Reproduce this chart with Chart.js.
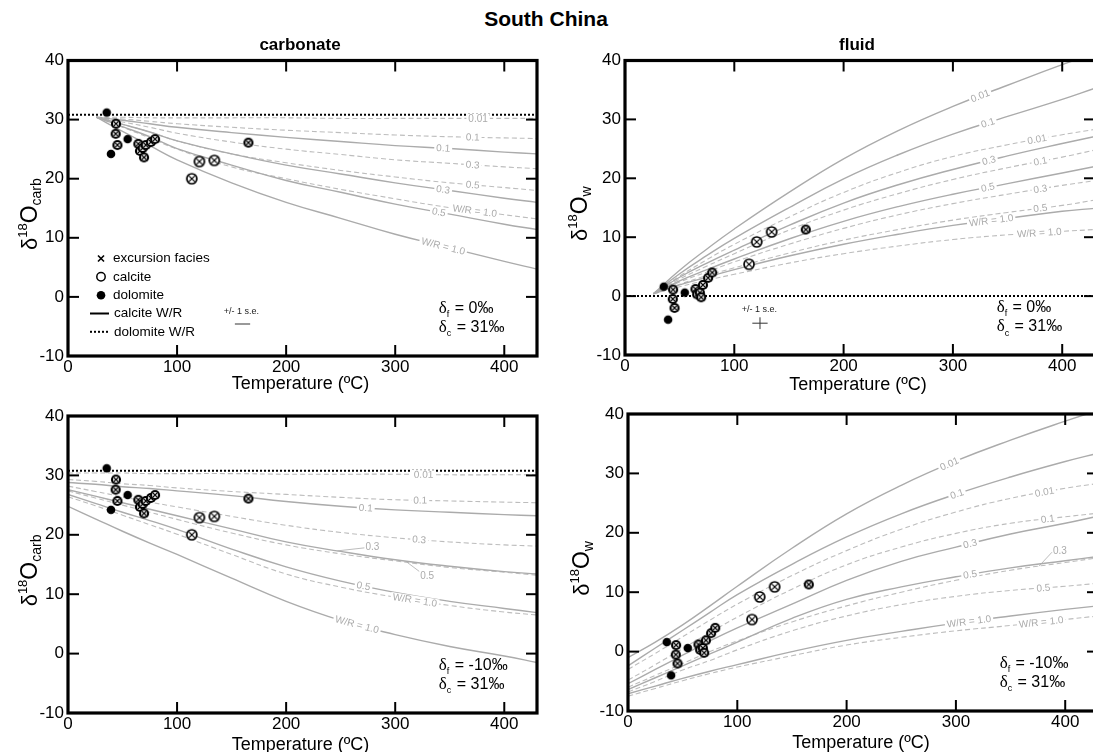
<!DOCTYPE html>
<html>
<head>
<meta charset="utf-8">
<title>South China</title>
<script src="https://cdn.jsdelivr.net/npm/chart.js@4.4.1/dist/chart.umd.min.js"></script>
<style>
  html, body { margin: 0; padding: 0; background: #fff; overflow: hidden; }
  body { position: relative; width: 1093px; height: 752px; }
  canvas { position: absolute; }
  .ttl { position: absolute; font-family: "Liberation Sans", Arial, sans-serif; font-weight: bold;
         white-space: nowrap; transform: translateX(-50%); line-height: 1; color: #000; }
</style>
</head>
<body>
<canvas id="tl" width="548" height="352" style="left:0;top:48px"></canvas>
<canvas id="tr" width="560" height="352" style="left:548px;top:48px"></canvas>
<canvas id="bl" width="548" height="352" style="left:0;top:400px"></canvas>
<canvas id="br" width="560" height="352" style="left:548px;top:400px"></canvas>
<div class="ttl" style="left:546px;top:8px;font-size:21px">South China</div>
<div class="ttl" style="left:300px;top:36px;font-size:17px">carbonate</div>
<div class="ttl" style="left:857px;top:36px;font-size:17px">fluid</div>
<script>
const FONT = '"Liberation Sans", Arial, Helvetica, sans-serif';
const SOLID_GRAY = '#ababab';
const DASH_GRAY = '#bdbdbd';
const LABEL_GRAY = '#ababab';

// axes
const xTicks = [0, 100, 200, 300, 400];
const yTicks = [-10, 0, 10, 20, 30, 40];

// measured samples, same rocks in every panel
const sampleT     = [35.5, 39.4, 54.7, 44.0, 43.7, 45.3, 64.5, 66.0, 68.5, 69.7, 71.3, 76.0, 79.8, 165.4, 113.5, 120.5, 134.2];
const sampleCarb  = [31.2, 24.2, 26.7, 29.3, 27.6, 25.7, 25.9, 24.7, 25.2, 23.6, 25.7, 26.2, 26.7, 26.1, 20.0, 22.9, 23.1];
const sampleFluid = [1.6, -4.0, 0.6, 1.1, -0.5, -2.0, 1.2, 0.3, 0.6, -0.2, 1.9, 3.1, 4.0, 11.3, 5.4, 9.2, 10.9];
const sampleKind  = ['dol', 'dol', 'dol', 'dolX', 'dolX', 'dolX', 'dolX', 'dolX', 'dolX', 'dolX', 'dolX', 'dolX', 'dolX', 'dolX', 'calX', 'calX', 'calX'];

// W/R model curves
const wrNames = ['0.01', '0.1', '0.3', '0.5', 'W/R = 1.0'];
const wrNamesNo001 = ['0.1', '0.3', '0.5', 'W/R = 1.0'];
const tGridF0 = [26, 50, 75, 100, 150, 200, 250, 300, 350, 400, 430];
const tGridF10 = [0, 25, 50, 75, 100, 150, 200, 250, 300, 350, 400, 430];

// carbonate, δf = 0
const carbF0Calcite = [
  [30.4, 29.9, 29.3, 28.7, 27.8, 27.0, 26.3, 25.6, 25.1, 24.5, 24.2],
  [30.4, 29.2, 27.9, 26.4, 24.2, 22.3, 20.8, 19.3, 18.0, 16.7, 16.0],
  [30.4, 28.8, 27.1, 25.1, 22.3, 19.7, 17.7, 15.7, 14.0, 12.3, 11.4],
  [30.4, 28.0, 25.6, 23.2, 19.3, 16.0, 13.3, 10.6, 8.3, 6.0, 4.7]
];
const carbF0Dolomite = [
  [30.4, 30.4, 30.3, 30.3, 30.3, 30.3, 30.2, 30.2, 30.2, 30.2, 30.2],
  [30.4, 30.1, 29.7, 29.3, 28.7, 28.2, 27.8, 27.4, 27.1, 26.9, 26.8],
  [30.4, 29.6, 28.7, 27.7, 26.2, 25.0, 24.1, 23.2, 22.6, 22.0, 21.7],
  [30.4, 29.2, 27.9, 26.4, 24.2, 22.7, 21.4, 20.3, 19.3, 18.5, 18.0],
  [30.4, 28.7, 26.9, 25.0, 22.0, 20.0, 18.2, 16.6, 15.1, 13.9, 13.2]
];
// fluid, δf = 0
const fluidF0Calcite = [
  [0.4, 4.4, 8.0, 11.4, 17.6, 23.3, 28.1, 32.2, 35.8, 39.3, 41.2],
  [0.4, 3.8, 6.9, 9.8, 15.0, 19.9, 24.0, 27.5, 30.5, 33.4, 35.3],
  [0.4, 3.2, 5.6, 7.8, 12.0, 15.8, 18.9, 21.5, 23.8, 25.9, 27.1],
  [0.4, 2.6, 4.5, 6.3, 9.7, 12.7, 15.2, 17.3, 19.1, 20.9, 22.0],
  [0.4, 1.9, 3.2, 4.5, 6.8, 8.8, 10.5, 12.0, 13.2, 14.4, 14.9]
];
const fluidF0Dolomite = [
  [0.4, 3.4, 6.2, 8.8, 13.4, 17.6, 21.0, 23.7, 25.7, 27.4, 28.3],
  [0.4, 2.9, 5.1, 7.2, 11.2, 14.6, 17.4, 19.8, 21.8, 23.6, 24.8],
  [0.4, 2.4, 4.1, 5.8, 8.8, 11.5, 13.8, 15.7, 17.3, 18.8, 19.6],
  [0.4, 2.0, 3.5, 4.8, 7.3, 9.5, 11.3, 12.9, 14.2, 15.4, 16.3],
  [0.4, 1.6, 2.7, 3.7, 5.6, 7.2, 8.5, 9.6, 10.4, 11.0, 11.3]
];
// carbonate, δf = -10
const carbF10Calcite = [
  [28.8, 28.5, 28.1, 27.8, 27.4, 26.6, 25.6, 24.8, 24.2, 23.8, 23.4, 23.2],
  [27.6, 26.5, 25.4, 24.3, 23.2, 21.0, 18.8, 17.2, 15.8, 14.7, 13.8, 13.4],
  [26.8, 25.3, 23.8, 22.4, 20.9, 17.6, 14.6, 12.2, 10.3, 8.8, 7.6, 6.9],
  [24.8, 22.7, 20.6, 18.6, 16.7, 12.7, 8.8, 5.6, 3.2, 1.2, -0.4, -1.5]
];
const carbF10Dolomite = [
  [30.4, 30.4, 30.4, 30.3, 30.3, 30.3, 30.2, 30.2, 30.2, 30.1, 30.1, 30.1],
  [29.3, 29.0, 28.6, 28.3, 27.9, 27.3, 26.8, 26.3, 25.9, 25.7, 25.5, 25.4],
  [28.2, 27.3, 26.4, 25.5, 24.7, 23.1, 21.6, 20.4, 19.5, 18.8, 18.3, 18.1],
  [27.4, 26.2, 25.0, 23.8, 22.6, 20.3, 18.3, 16.8, 15.6, 14.5, 13.7, 13.2],
  [26.4, 24.9, 23.3, 21.7, 20.1, 16.7, 13.4, 11.2, 9.5, 8.1, 7.0, 6.5]
];
// fluid, δf = -10
const fluidF10Calcite = [
  [-1.0, 1.6, 4.5, 7.7, 11.0, 17.4, 23.2, 28.0, 32.1, 35.6, 38.8, 40.6],
  [-2.4, 0.6, 3.6, 6.6, 9.6, 14.7, 19.3, 23.2, 26.5, 29.4, 32.0, 33.4],
  [-5.4, -3.0, -0.6, 1.8, 4.0, 8.0, 12.0, 15.2, 17.6, 19.8, 21.6, 22.8],
  [-6.4, -4.4, -2.4, -0.4, 1.6, 5.6, 8.8, 10.9, 12.6, 14.1, 15.3, 16.0],
  [-7.1, -5.8, -4.5, -3.3, -2.2, 0.0, 1.9, 3.4, 4.8, 6.0, 7.1, 7.7]
];
const fluidF10Dolomite = [
  [-3.0, -0.3, 2.5, 5.3, 8.0, 12.8, 17.0, 20.6, 23.5, 25.8, 27.5, 28.3],
  [-4.8, -2.2, 0.5, 3.2, 5.8, 10.5, 14.6, 17.6, 19.9, 21.6, 22.7, 23.3],
  [-6.0, -4.0, -2.0, 0.0, 1.8, 5.0, 7.7, 10.0, 12.0, 13.7, 15.0, 15.8],
  [-6.8, -5.0, -3.1, -1.5, 0.3, 3.5, 6.0, 7.9, 9.3, 10.3, 11.0, 11.5],
  [-7.5, -6.2, -4.9, -3.7, -2.6, -0.7, 1.1, 2.4, 3.5, 4.4, 5.4, 6.0]
];

// starting compositions (dotted lines)
const refT = [0, 430];
const refCarb = [30.8, 30.8];
const refFluidF0 = [0, 0];

// +/- 1 s.e.
const seCarbT = [153, 167];
const seCarbY = [-4.6, -4.6];
const seFluidT = [116.5, 130.5];
const seFluidY = [-5.6, -3.6];
const seFluidMid = [123.5, -4.6];

// marker images
function markerImage(kind) {
  const c = document.createElement('canvas');
  c.width = 16; c.height = 16;
  const g = c.getContext('2d');
  const m = 8;
  if (kind === 'dol') {
    g.beginPath(); g.arc(m, m, 4.3, 0, Math.PI * 2); g.fillStyle = '#000'; g.fill();
    return c;
  }
  if (kind === 'dolX') {
    g.beginPath(); g.arc(m, m, 5.1, 0, Math.PI * 2); g.fillStyle = '#000'; g.fill();
    g.beginPath(); g.arc(m, m, 2.9, 0, Math.PI * 2); g.fillStyle = '#fff'; g.fill();
    g.strokeStyle = '#000'; g.lineWidth = 1.1;
    g.beginPath();
    g.moveTo(m - 2, m - 2); g.lineTo(m + 2, m + 2);
    g.moveTo(m + 2, m - 2); g.lineTo(m - 2, m + 2);
    g.stroke();
    return c;
  }
  g.beginPath(); g.arc(m, m, 5.0, 0, Math.PI * 2);
  g.fillStyle = '#fff'; g.fill();
  g.lineWidth = 1.7; g.strokeStyle = '#000'; g.stroke();
  g.lineWidth = 1.2;
  g.beginPath();
  g.moveTo(m - 2.7, m - 2.7); g.lineTo(m + 2.7, m + 2.7);
  g.moveTo(m + 2.7, m - 2.7); g.lineTo(m - 2.7, m + 2.7);
  g.stroke();
  return c;
}
const markers = { dol: markerImage('dol'), dolX: markerImage('dolX'), calX: markerImage('calX') };

function interp(xs, ys, t) {
  for (let i = 0; i < xs.length - 1; i++) {
    if (t >= xs[i] && t <= xs[i + 1]) {
      const f = (t - xs[i]) / (xs[i + 1] - xs[i]);
      return ys[i] + f * (ys[i + 1] - ys[i]);
    }
  }
  return ys[ys.length - 1];
}

function line(ctx, x1, y1, x2, y2) {
  ctx.beginPath(); ctx.moveTo(x1, y1); ctx.lineTo(x2, y2); ctx.stroke();
}

function drawCurveLabel(ctx, sx, sy, xs, ys, text, place) {
  const px = sx.getPixelForValue(place.t);
  const py = sy.getPixelForValue(interp(xs, ys, place.t));
  ctx.save();
  ctx.font = '10px ' + FONT;
  const w = ctx.measureText(text).width;
  if (place.dy) {
    const lx = px + place.dx, ly = py + place.dy;
    ctx.strokeStyle = LABEL_GRAY; ctx.lineWidth = 0.8;
    line(ctx, px, py, lx, ly);
    ctx.fillStyle = LABEL_GRAY; ctx.textAlign = 'left'; ctx.textBaseline = 'middle';
    ctx.fillText(text, lx + 1, ly + (place.dy > 0 ? 5 : -1));
  } else {
    const a = sx.getPixelForValue(place.t - 6), b = sx.getPixelForValue(place.t + 6);
    const ya = sy.getPixelForValue(interp(xs, ys, place.t - 6));
    const yb = sy.getPixelForValue(interp(xs, ys, place.t + 6));
    ctx.translate(px, py);
    ctx.rotate(Math.atan2(yb - ya, b - a));
    ctx.fillStyle = '#fff';
    ctx.fillRect(-w / 2 - 2, -4.5, w + 4, 9);
    ctx.fillStyle = LABEL_GRAY; ctx.textAlign = 'center'; ctx.textBaseline = 'middle';
    ctx.fillText(text, 0, 0.5);
  }
  ctx.restore();
}

function drawYTitle(ctx, cx, cy, sub) {
  const parts = [
    { t: 'δ', f: '22px ' + FONT, dy: 0 },
    { t: '18', f: '13px ' + FONT, dy: -8 },
    { t: 'O', f: '23px ' + FONT, dy: 0 },
    { t: sub, f: '14px ' + FONT, dy: 6 }
  ];
  ctx.save();
  ctx.translate(cx, cy); ctx.rotate(-Math.PI / 2);
  let w = 0;
  parts.forEach(p => { ctx.font = p.f; p.w = ctx.measureText(p.t).width; w += p.w; });
  let x = -w / 2;
  ctx.textBaseline = 'middle'; ctx.fillStyle = '#000'; ctx.textAlign = 'left';
  parts.forEach(p => { ctx.font = p.f; ctx.fillText(p.t, x, p.dy); x += p.w; });
  ctx.restore();
}

function drawDelta(ctx, x, y, sub, rest) {
  ctx.save();
  ctx.fillStyle = '#000'; ctx.textBaseline = 'middle'; ctx.textAlign = 'left';
  ctx.font = '17px "Liberation Serif", serif';
  ctx.fillText('δ', x, y);
  let cx = x + ctx.measureText('δ').width;
  ctx.font = '9px ' + FONT;
  ctx.fillText(sub, cx, y + 6);
  cx += ctx.measureText(sub).width + 1;
  ctx.font = '16px ' + FONT;
  ctx.fillText(rest, cx, y);
  ctx.restore();
}

function drawLegend(ctx, a) {
  const sx = a.left + 33, tx = a.left + 45;
  const rows = [198, 216.3, 234.7, 253, 271.3].map(v => a.top + v);
  ctx.save();
  ctx.strokeStyle = '#000'; ctx.fillStyle = '#000';
  ctx.lineWidth = 1.6;
  line(ctx, sx - 3, rows[0] - 3, sx + 3, rows[0] + 3);
  line(ctx, sx + 3, rows[0] - 3, sx - 3, rows[0] + 3);
  ctx.lineWidth = 1.5;
  ctx.beginPath(); ctx.arc(sx, rows[1], 4.2, 0, Math.PI * 2); ctx.stroke();
  ctx.beginPath(); ctx.arc(sx, rows[2], 4.3, 0, Math.PI * 2); ctx.fill();
  ctx.lineWidth = 2;
  line(ctx, a.left + 22, rows[3], a.left + 41, rows[3]);
  ctx.setLineDash([2, 2]);
  line(ctx, a.left + 22, rows[4], a.left + 41, rows[4]);
  ctx.setLineDash([]);
  ctx.font = '13.5px ' + FONT; ctx.textBaseline = 'middle'; ctx.textAlign = 'left';
  ['excursion facies', 'calcite', 'dolomite', 'calcite W/R', 'dolomite W/R'].forEach((s, i) => {
    ctx.fillText(s, i > 2 ? tx + 1 : tx, rows[i]);
  });
  ctx.restore();
}

function decoPlugin(p) {
  return {
    id: 'deco' + p.id,
    afterDatasetsDraw(chart) {
      const ctx = chart.ctx, a = chart.chartArea;
      const sx = chart.scales.x, sy = chart.scales.y;
      // curve labels
      p.families.forEach(fam => {
        fam.values.forEach((vals, i) => {
          drawCurveLabel(ctx, sx, sy, fam.temps, vals, fam.names[i], fam.places[i]);
        });
      });
      ctx.save();
      // frame and inward ticks
      ctx.strokeStyle = '#000';
      ctx.lineWidth = 3.2;
      ctx.strokeRect(a.left, a.top, a.right - a.left, a.bottom - a.top);
      ctx.lineWidth = 2;
      xTicks.forEach(v => {
        if (v <= sx.min || v >= sx.max) return;
        const px = sx.getPixelForValue(v);
        line(ctx, px, a.top, px, a.top + 11);
        line(ctx, px, a.bottom, px, a.bottom - 11);
      });
      yTicks.forEach(v => {
        if (v <= sy.min || v >= sy.max) return;
        const py = sy.getPixelForValue(v);
        line(ctx, a.left, py, a.left + 11, py);
        line(ctx, a.right, py, a.right - 11, py);
      });
      ctx.restore();
      // axis titles
      ctx.save();
      ctx.fillStyle = '#000'; ctx.font = '18px ' + FONT;
      ctx.textAlign = 'center'; ctx.textBaseline = 'middle';
      ctx.fillText('Temperature (ºC)', (a.left + a.right) / 2 - 2, a.bottom + p.xTitleDy);
      ctx.restore();
      drawYTitle(ctx, a.left + p.yTitleDx, sy.getPixelForValue(14), p.yTitleSub);
      // δf / δc
      const ax = sx.getPixelForValue(340);
      drawDelta(ctx, ax, sy.getPixelForValue(-2.0), 'f', ' = ' + p.fluidText);
      drawDelta(ctx, ax, sy.getPixelForValue(-5.25), 'c', ' = 31‰');
      // +/- 1 s.e.
      if (p.seText) {
        ctx.save();
        ctx.font = '9px ' + FONT; ctx.fillStyle = '#222';
        ctx.textAlign = 'center'; ctx.textBaseline = 'middle';
        ctx.fillText('+/- 1 s.e.', sx.getPixelForValue(p.seText[0]), sy.getPixelForValue(p.seText[1]));
        ctx.restore();
      }
      if (p.legend) drawLegend(ctx, a);
    }
  };
}

function lineSet(xs, ys, style) {
  return Object.assign({
    data: xs.map((t, i) => ({ x: t, y: ys[i] })),
    showLine: true, pointRadius: 0, pointHoverRadius: 0, fill: false, order: 5,
    borderWidth: 1.3, borderColor: SOLID_GRAY, tension: 0
  }, style);
}

function buildPanel(p) {
  const datasets = [];
  datasets.push({
    data: sampleT.map((t, i) => ({ x: t, y: p.sampleY[i] })),
    pointStyle: sampleKind.map(k => markers[k]),
    pointRadius: 6, pointHoverRadius: 6, showLine: false, order: 0
  });
  p.families.forEach(fam => {
    fam.values.forEach(vals => {
      datasets.push(lineSet(fam.temps, vals, fam.dashed
        ? { borderColor: DASH_GRAY, borderWidth: 1.1, borderDash: [5, 3], tension: 0.45 }
        : { borderColor: SOLID_GRAY, borderWidth: 1.4, tension: 0.45 }));
    });
  });
  if (p.ref) {
    datasets.push(lineSet(refT, p.ref, { borderColor: '#000', borderWidth: 2, borderDash: [2, 2], order: 4 }));
  }
  if (p.seBar) {
    datasets.push(lineSet(seCarbT, seCarbY, { borderColor: '#999', borderWidth: 2, order: 3 }));
  }
  if (p.seCross) {
    datasets.push(lineSet(seFluidT, [seFluidMid[1], seFluidMid[1]], { borderColor: '#333', borderWidth: 1, order: 3 }));
    datasets.push(lineSet([seFluidMid[0], seFluidMid[0]], seFluidY, { borderColor: '#333', borderWidth: 1, order: 3 }));
  }

  const tickFont = { family: FONT, size: 17, lineHeight: 1 };
  new Chart(document.getElementById(p.id), {
    type: 'scatter',
    data: { datasets },
    options: {
      responsive: false, animation: false, events: [],
      layout: { padding: { left: 0, top: p.padTop, right: p.padRight, bottom: 0 } },
      plugins: { legend: { display: false }, tooltip: { enabled: false } },
      scales: {
        x: {
          type: 'linear', min: 0, max: 430,
          afterBuildTicks: s => { s.ticks = xTicks.map(v => ({ value: v })); },
          afterFit: s => { s.height = p.xAxisH; },
          grid: { display: false, drawTicks: false }, border: { display: false },
          ticks: { color: '#000', font: tickFont, padding: 3, maxRotation: 0, autoSkip: false,
                   callback: v => String(v) }
        },
        y: {
          type: 'linear', min: -10, max: 40,
          afterBuildTicks: s => { s.ticks = yTicks.map(v => ({ value: v })); },
          afterFit: s => { s.width = p.yAxisW; },
          grid: { display: false, drawTicks: false }, border: { display: false },
          ticks: { color: '#000', font: tickFont, padding: 4, autoSkip: false,
                   callback: v => String(v) }
        }
      }
    },
    plugins: [decoPlugin(p)]
  });
}

const noOffset = t => ({ t });

buildPanel({
  id: 'tl', sampleY: sampleCarb, ref: refCarb, seBar: true, seText: [159, -2.4],
  legend: true, yTitleSub: 'carb', yTitleDx: -37, xTitleDy: 28, fluidText: '0‰',
  padTop: 10, padRight: 11, yAxisW: 68, xAxisH: 44,
  families: [
    { temps: tGridF0, values: carbF0Calcite, names: wrNamesNo001, dashed: false,
      places: [344, 344, 340, 344].map(noOffset) },
    { temps: tGridF0, values: carbF0Dolomite, names: wrNames, dashed: true,
      places: [376, 371, 371, 371, 373].map(noOffset) }
  ]
});
buildPanel({
  id: 'tr', sampleY: sampleFluid, ref: refFluidF0, seCross: true, seText: [123, -2.2],
  yTitleSub: 'w', yTitleDx: -44, xTitleDy: 30, fluidText: '0‰',
  padTop: 11, padRight: 13, yAxisW: 77, xAxisH: 45,
  families: [
    { temps: tGridF0, values: fluidF0Calcite, names: wrNames, dashed: false,
      places: [325, 332, 333, 332, 335].map(noOffset) },
    { temps: tGridF0, values: fluidF0Dolomite, names: wrNames, dashed: true,
      places: [377, 380, 380, 380, 379].map(noOffset) }
  ]
});
buildPanel({
  id: 'bl', sampleY: sampleCarb, ref: refCarb,
  yTitleSub: 'carb', yTitleDx: -37, xTitleDy: 32, fluidText: '-10‰',
  padTop: 16, padRight: 11, yAxisW: 68, xAxisH: 39,
  families: [
    { temps: tGridF10, values: carbF10Calcite, names: wrNamesNo001, dashed: false,
      places: [{ t: 273 }, { t: 247, dx: 27, dy: -3 }, { t: 271 }, { t: 265 }] },
    { temps: tGridF10, values: carbF10Dolomite, names: wrNames, dashed: true,
      places: [{ t: 326 }, { t: 323 }, { t: 322 }, { t: 311, dx: 12, dy: 9 }, { t: 318 }] }
  ]
});
buildPanel({
  id: 'br', sampleY: sampleFluid,
  yTitleSub: 'w', yTitleDx: -45, xTitleDy: 32, fluidText: '-10‰',
  padTop: 14, padRight: 10, yAxisW: 80, xAxisH: 41,
  families: [
    { temps: tGridF10, values: fluidF10Calcite, names: wrNames, dashed: false,
      places: [294, 301, 313, 313, 312].map(noOffset) },
    { temps: tGridF10, values: fluidF10Dolomite, names: wrNames, dashed: true,
      places: [{ t: 381 }, { t: 384 }, { t: 376, dx: 13, dy: -14 }, { t: 380 }, { t: 378 }] }
  ]
});
</script>
</body>
</html>
